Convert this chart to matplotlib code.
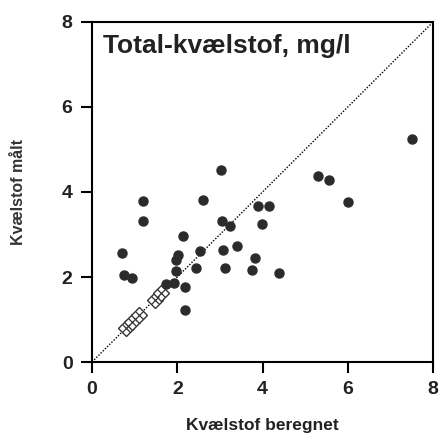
import matplotlib.pyplot as plt

plt.rcParams['font.family'] = ['Liberation Sans', 'DejaVu Sans']

# measured points (beregnet, målt)
x_calc = [1.20, 1.20, 2.61, 3.89, 4.16, 6.01, 3.99, 3.06, 3.24, 2.13,
          0.71, 2.02, 1.96, 2.54, 3.07, 3.39, 3.82, 0.74, 0.95, 1.96,
          2.43, 3.13, 3.75, 4.39, 1.74, 1.92, 2.18, 2.17, 3.02, 5.31,
          5.57, 7.51]
y_meas = [3.78, 3.31, 3.80, 3.68, 3.67, 3.76, 3.25, 3.32, 3.20, 2.96,
          2.56, 2.52, 2.39, 2.61, 2.64, 2.72, 2.45, 2.04, 1.98, 2.14,
          2.21, 2.21, 2.17, 2.09, 1.84, 1.87, 1.76, 1.22, 4.52, 4.38,
          4.29, 5.25]

# hollow markers along the 1:1 line
x_open = [0.80, 0.95, 1.10, 1.47, 1.62]
y_open = [0.80, 0.95, 1.10, 1.47, 1.62]

fig = plt.figure(figsize=(4.41, 4.37), dpi=100)
ax = fig.add_axes([0.2086, 0.1716, 0.7734, 0.7781])

ax.plot([0, 8], [0, 8], color='black', linestyle=(0, (1, 1.2)), linewidth=1.0)
ax.plot(x_open, y_open, linestyle='none', marker='D', markersize=8,
        markerfacecolor='white', markeredgecolor='#333333', markeredgewidth=1.0)
ax.plot(x_open, y_open, linestyle='none', marker='x', markersize=5.5,
        color='#333333', markeredgewidth=0.9)
ax.plot(x_calc, y_meas, linestyle='none', marker='o', markersize=6.5,
        color='#2b2b2b')

ax.set_xlim(0, 8)
ax.set_ylim(0, 8)
ax.set_xticks([0, 2, 4, 6, 8])
ax.set_yticks([0, 2, 4, 6, 8])
ax.tick_params(direction='out', length=8, width=1.5, labelsize=14, pad=6)
for lab in ax.get_xticklabels() + ax.get_yticklabels():
    lab.set_fontweight('bold')
    lab.set_color('#222222')
for s in ax.spines.values():
    s.set_linewidth(1.5)

ax.set_xlabel('Kvælstof beregnet', fontsize=12.5, fontweight='bold', labelpad=14, color='#222222')
ax.set_ylabel('Kvælstof målt', fontsize=11.5, fontweight='bold', labelpad=26, color='#333333')
ax.text(0.032, 0.965, 'Total-kvælstof, mg/l', transform=ax.transAxes, fontsize=19,
        fontweight='bold', va='top', ha='left', color='#222222')

fig.savefig('out.png', dpi=100)
